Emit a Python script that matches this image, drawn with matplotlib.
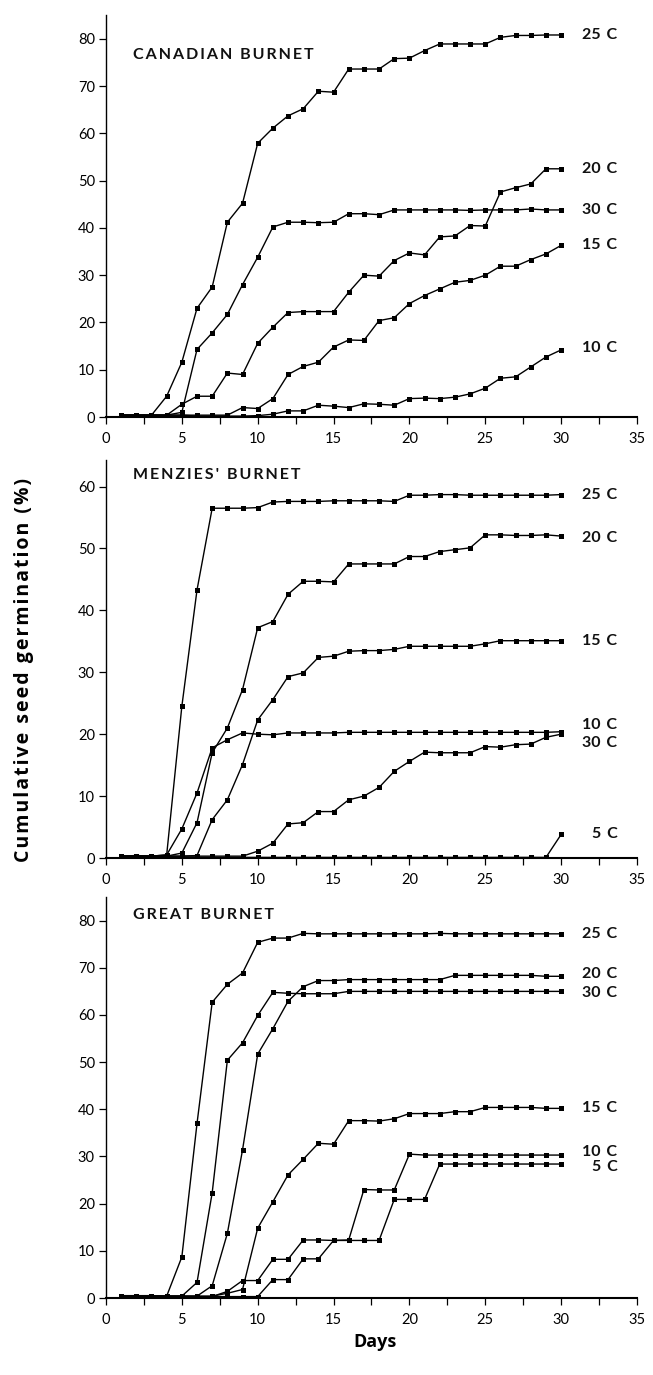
import matplotlib
matplotlib.use("Agg")
import matplotlib.pyplot as plt
from matplotlib.ticker import MultipleLocator

plt.rcParams['font.family'] = ['Lato', 'DejaVu Sans']

days = list(range(1, 31))

# Canadian burnet
can_25 = [0.4, 0.4, 0.4, 4.4, 11.6, 23.0, 27.5, 41.2, 45.2, 57.9, 61.1, 63.7, 65.2, 68.9, 68.7,
          73.6, 73.6, 73.6, 75.8, 75.9, 77.5, 78.9, 78.9, 78.9, 78.9, 80.3, 80.7, 80.7, 80.8, 80.8]
can_20 = [0.4, 0.4, 0.4, 0.4, 2.7, 4.4, 4.4, 9.3, 9.0, 15.6, 19.0, 22.1, 22.3, 22.3, 22.3,
          26.4, 30.0, 29.8, 33.1, 34.7, 34.3, 38.1, 38.3, 40.5, 40.4, 47.6, 48.5, 49.3, 52.5, 52.5]
can_30 = [0.4, 0.4, 0.4, 0.4, 1.0, 14.3, 17.8, 21.7, 28.0, 33.8, 40.2, 41.2, 41.2, 41.1, 41.2,
          43.0, 43.0, 42.8, 43.8, 43.8, 43.8, 43.8, 43.8, 43.7, 43.8, 43.8, 43.8, 44.0, 43.8, 43.8]
can_15 = [0.4, 0.4, 0.4, 0.4, 0.4, 0.4, 0.4, 0.4, 2.0, 1.8, 3.9, 9.0, 10.7, 11.6, 14.8,
          16.3, 16.2, 20.4, 21.0, 24.0, 25.7, 27.1, 28.5, 28.9, 30.0, 31.9, 31.9, 33.3, 34.5, 36.3]
can_10 = [0.4, 0.4, 0.4, 0.4, 0.4, 0.2, 0.2, 0.2, 0.2, 0.3, 0.6, 1.3, 1.3, 2.5, 2.3,
          2.0, 2.8, 2.7, 2.5, 3.9, 4.0, 3.9, 4.2, 4.9, 6.1, 8.2, 8.5, 10.6, 12.7, 14.2]

# Menzies' burnet
men_25 = [0.3, 0.4, 0.3, 0.5, 24.5, 43.3, 56.5, 56.5, 56.5, 56.6, 57.5, 57.6, 57.6, 57.6, 57.7,
          57.7, 57.7, 57.7, 57.6, 58.6, 58.6, 58.7, 58.7, 58.6, 58.6, 58.6, 58.6, 58.6, 58.6, 58.7]
men_20 = [0.3, 0.3, 0.3, 0.3, 0.8, 5.7, 17.0, 21.0, 27.2, 37.2, 38.2, 42.6, 44.7, 44.7, 44.6,
          47.5, 47.5, 47.5, 47.5, 48.7, 48.7, 49.5, 49.8, 50.1, 52.2, 52.2, 52.1, 52.1, 52.2, 52.0]
men_15 = [0.3, 0.3, 0.3, 0.3, 0.3, 0.4, 6.2, 9.4, 15.1, 22.3, 25.6, 29.3, 29.9, 32.4, 32.6,
          33.4, 33.5, 33.5, 33.7, 34.2, 34.2, 34.2, 34.2, 34.2, 34.6, 35.1, 35.1, 35.1, 35.1, 35.1]
men_10 = [0.3, 0.3, 0.3, 0.5, 4.7, 10.5, 17.8, 19.1, 20.2, 20.0, 19.9, 20.2, 20.2, 20.2, 20.2,
          20.3, 20.3, 20.3, 20.3, 20.3, 20.3, 20.3, 20.3, 20.3, 20.3, 20.3, 20.3, 20.3, 20.3, 20.4]
men_30 = [0.3, 0.3, 0.3, 0.3, 0.3, 0.3, 0.3, 0.3, 0.3, 1.1, 2.4, 5.5, 5.7, 7.5, 7.5,
          9.4, 10.0, 11.4, 14.0, 15.6, 17.1, 17.0, 17.0, 17.0, 18.0, 17.9, 18.3, 18.4, 19.5, 20.0]
men_5 = [0.1, 0.1, 0.1, 0.1, 0.1, 0.1, 0.1, 0.1, 0.1, 0.1, 0.1, 0.1, 0.1, 0.1, 0.1,
         0.1, 0.1, 0.1, 0.1, 0.1, 0.1, 0.1, 0.1, 0.1, 0.1, 0.1, 0.1, 0.1, 0.1, 3.8]

# Great burnet
gre_25 = [0.5, 0.5, 0.5, 0.4, 8.7, 37.0, 62.7, 66.5, 68.9, 75.4, 76.3, 76.3, 77.3, 77.2, 77.2,
          77.2, 77.2, 77.2, 77.2, 77.2, 77.2, 77.3, 77.2, 77.2, 77.2, 77.2, 77.2, 77.2, 77.2, 77.2]
gre_20 = [0.4, 0.4, 0.4, 0.4, 0.4, 0.4, 2.6, 13.7, 31.4, 51.7, 57.1, 62.9, 66.0, 67.3, 67.3,
          67.5, 67.5, 67.5, 67.5, 67.5, 67.5, 67.5, 68.4, 68.4, 68.4, 68.4, 68.4, 68.4, 68.2, 68.2]
gre_30 = [0.4, 0.4, 0.4, 0.4, 0.4, 3.3, 22.3, 50.4, 54.1, 59.9, 64.8, 64.6, 64.5, 64.5, 64.5,
          65.0, 65.0, 65.0, 65.0, 65.0, 65.0, 65.0, 65.0, 65.0, 65.0, 65.0, 65.0, 65.0, 65.0, 65.0]
gre_15 = [0.4, 0.4, 0.4, 0.4, 0.4, 0.4, 0.4, 1.0, 1.8, 14.8, 20.4, 26.1, 29.4, 32.8, 32.6,
          37.6, 37.6, 37.5, 38.0, 39.1, 39.1, 39.1, 39.5, 39.5, 40.4, 40.4, 40.4, 40.4, 40.2, 40.2]
gre_10 = [0.3, 0.3, 0.3, 0.3, 0.3, 0.3, 0.3, 1.4, 3.7, 3.7, 8.2, 8.2, 12.3, 12.3, 12.2,
          12.3, 23.0, 22.9, 22.9, 30.5, 30.3, 30.3, 30.3, 30.3, 30.3, 30.3, 30.3, 30.3, 30.3, 30.3]
gre_5 = [0.3, 0.3, 0.3, 0.3, 0.3, 0.3, 0.3, 0.3, 0.3, 0.3, 3.9, 3.9, 8.3, 8.3, 12.2,
         12.2, 12.2, 12.2, 20.9, 20.9, 20.9, 28.4, 28.4, 28.4, 28.4, 28.4, 28.4, 28.4, 28.4, 28.4]

panels = [
    ("CANADIAN BURNET", 85, [10, 20, 30, 40, 50, 60, 70, 80], 0.90,
     [(can_25, "25 C", 80.9), (can_20, "20 C", 52.5), (can_30, "30 C", 43.8),
      (can_15, "15 C", 36.3), (can_10, "10 C", 14.7)]),
    ("MENZIES' BURNET", 64.3, [10, 20, 30, 40, 50, 60], 0.962,
     [(men_25, "25 C", 58.7), (men_20, "20 C", 51.7), (men_15, "15 C", 35.0),
      (men_10, "10 C", 21.5), (men_30, "30 C", 18.5), (men_5, "5 C", 3.8)]),
    ("GREAT BURNET", 85, [10, 20, 30, 40, 50, 60, 70, 80], 0.955,
     [(gre_25, "25 C", 77.2), (gre_20, "20 C", 68.6), (gre_30, "30 C", 64.6),
      (gre_15, "15 C", 40.2), (gre_10, "10 C", 31.0), (gre_5, "5 C", 27.8)]),
]


def spaced(s, sep="\u2009"):
    # loose letter spacing like the printed figure
    return sep.join(s)


fig = plt.figure(figsize=(6.53, 13.75), dpi=100)
boxes = [(0.6967, 0.2923), (0.376, 0.2895), (0.056, 0.2916)]
left, width = 0.1623, 0.8132

for (title, ytop, yticks, ty, series), (bottom, height) in zip(panels, boxes):
    ax = fig.add_axes([left, bottom, width, height])
    for vals, lab, ly in series:
        ax.plot(days, vals, color='black', lw=1.0, marker='s', markersize=3.6,
                markerfacecolor='black', markeredgewidth=0)
        ax.text(33.7, ly, lab.replace(" ", "\u2009 "), ha='right', va='center',
                fontsize=11.5, fontweight='bold', color='#111111')
    ax.set_xlim(0, 35)
    ax.set_ylim(0, ytop)
    ax.set_xticks([0, 5, 10, 15, 20, 25, 30, 35])
    ax.xaxis.set_minor_locator(MultipleLocator(2.5))
    ax.set_yticks([0] + yticks)
    ax.spines['top'].set_visible(False)
    ax.spines['right'].set_visible(False)
    ax.spines['left'].set_linewidth(1.0)
    ax.spines['bottom'].set_linewidth(1.5)
    ax.tick_params(axis='both', which='both', direction='out', length=5, width=0.9,
                   labelsize=10.5, pad=3)
    ax.tick_params(axis='x', which='major', pad=6)
    ax.text(0.051, ty, spaced(title), transform=ax.transAxes, fontsize=11.5,
            fontweight='bold', va='center', ha='left', color='#111111')

fig.text(0.036, 0.513, spaced("Cumulative seed germination (%)", "\u200a"), rotation=90,
         ha='center', va='center', fontsize=14, fontweight='bold',
         family=['Open Sans', 'DejaVu Sans'])
fig.text(0.575, 0.024, "Days", ha='center', va='center', fontsize=13, fontweight='bold',
         family=['Open Sans', 'DejaVu Sans'])

fig.savefig("out.png", dpi=100)
